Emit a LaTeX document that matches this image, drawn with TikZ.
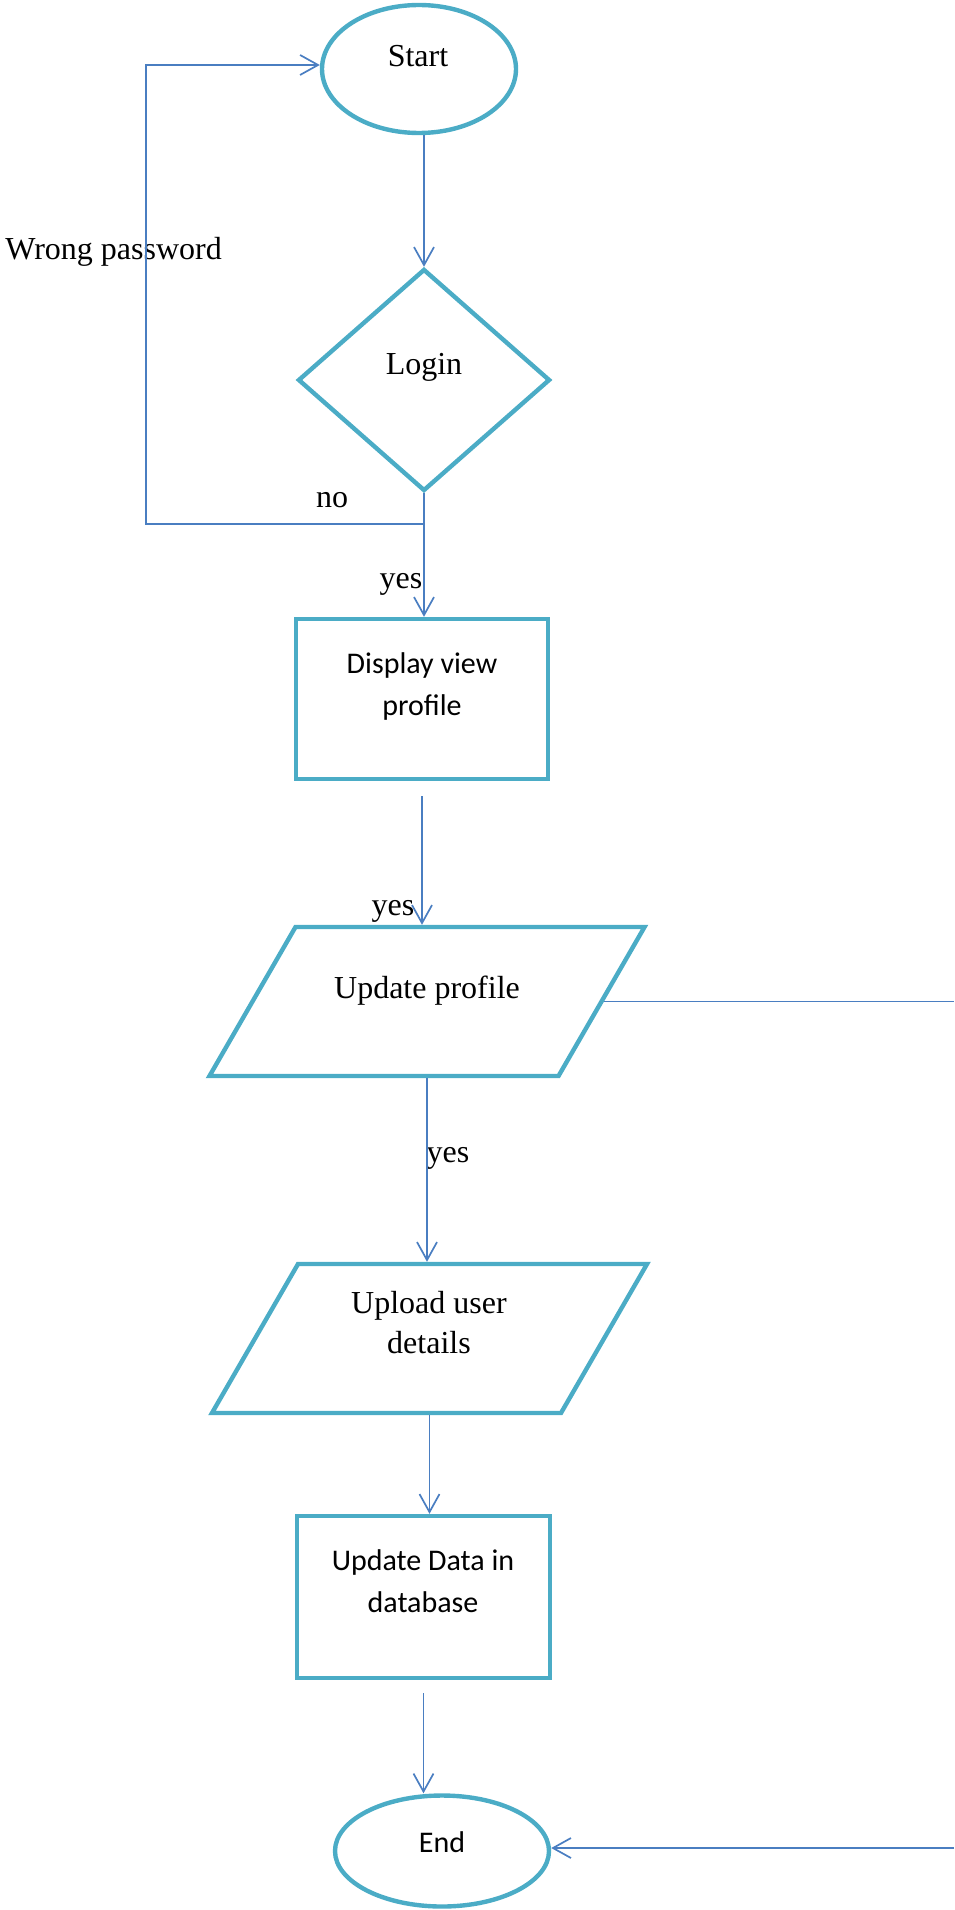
\documentclass[tikz,border=0pt]{standalone}
\usepackage{fontspec}
\setmainfont{Liberation Serif}
\newfontfamily\calibri{Carlito}
\usetikzlibrary{shapes.geometric, arrows.meta, positioning}

\definecolor{boxblue}{RGB}{75,172,198}
\definecolor{lineblue}{RGB}{74,126,193}

\tikzset{
  flowline/.style={draw=lineblue, line width=0.85pt},
  flowarrow/.style={flowline, -{Straight Barb[length=9pt,width=10pt]}},
  terminal/.style={ellipse, draw=boxblue, line width=2.2pt, inner sep=0pt},
  decision/.style={diamond, draw=boxblue, line width=2.2pt, inner sep=0pt},
  process/.style={rectangle, draw=boxblue, line width=2.2pt, inner sep=0pt},
  io/.style={trapezium, trapezium left angle=60, trapezium right angle=120,
    draw=boxblue, line width=2.2pt, inner xsep=65.75pt, inner ysep=37.25pt},
  seriftext/.style={font=\fontsize{16}{20}\selectfont, align=center},
  sanstext/.style={font=\calibri\fontsize{15}{21}\selectfont, align=center},
}

\begin{document}
\begin{tikzpicture}[x=0.5pt, y=-0.5pt]
  \useasboundingbox (0,0) rectangle (954,1910);
  % Shapes
  \node[terminal, minimum width=97pt, minimum height=64pt] (start) at (419,69) {};
  \node[decision, minimum width=126pt, minimum height=111pt] (login) at (424,380) {};
  \node[process, minimum width=126pt, minimum height=80pt] (disp) at (422,699) {};
  \node[io] (upd) at (427,1001.5) {};
  \node[io] (upl) at (429.5,1338.5) {};
  \node[process, minimum width=126.5pt, minimum height=81pt] (store) at (423.5,1597) {};
  \node[terminal, minimum width=107pt, minimum height=55.5pt] (finish) at (442,1851) {};
  % Texts
  \node[seriftext, anchor=base] (startlbl) at (418,67) {Start};
  \node[seriftext, anchor=base] (loginlbl) at (424,374) {Login};
  \node[sanstext, anchor=base] (displbl) at (422,715) {Display view\\profile};
  \node[seriftext, anchor=base] (updlbl) at (427,998) {Update profile};
  \node[seriftext, anchor=base] (upllbl) at (429,1353) {Upload user\\details};
  \node[sanstext, anchor=base] (storelbl) at (423,1612) {Update Data in\\database};
  \node[sanstext, anchor=base] (finishlbl) at (442,1852) {End};
  % Labels
  \node[seriftext, anchor=base west, inner sep=0pt] (wronglbl) at (5,260) {Wrong password};
  \node[seriftext, anchor=base] (nolbl) at (332,507) {no};
  \node[seriftext, anchor=base] (yeslbl) at (401,588) {yes};
  \node[seriftext, anchor=base] (yestwolbl) at (393,915) {yes};
  \node[seriftext, anchor=base] (yesthreelbl) at (448,1162) {yes};
  % Connectors
  \coordinate (nojoin) at (424,524);
  \coordinate (loopcorner) at (146,524);
  \coordinate (rtop) at (954,1003);
  \coordinate (rbot) at (954,1848);
  \draw[flowarrow] (login.north |- start.south) -- (login.north);
  \draw[flowarrow] (login.south) -- (disp.north -| login.south);
  \draw[flowarrow] (nojoin) -- (loopcorner) |- ([yshift=2pt]start.west);
  \draw[flowarrow] ([yshift=-7.5pt]disp.south) -- (disp.south |- upd.north);
  \draw[flowarrow] (upd.south) -- (upd.south |- upl.north);
  \draw[flowarrow] (upl.south) -- (upl.south |- store.north);
  \draw[flowarrow] ([yshift=-6.5pt]store.south) -- (store.south |- finish.north);
  \draw[flowline] (upd.east) -- (upd.east -| rtop);
  \draw[flowarrow] (rbot) -- (rbot -| finish.east);
\end{tikzpicture}
\end{document}
